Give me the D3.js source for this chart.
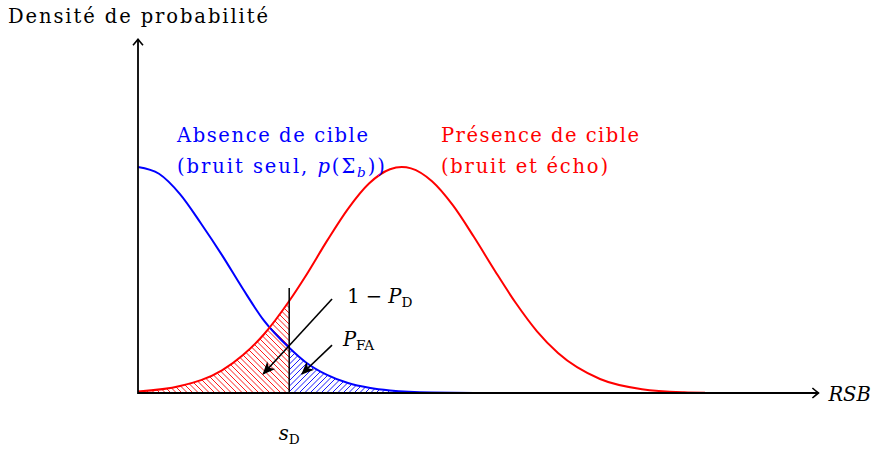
<!DOCTYPE html>
<html>
<head>
<meta charset="utf-8">
<script src="https://cdn.jsdelivr.net/npm/d3@7"></script>
<style>
  html, body { margin: 0; padding: 0; background: #fff; }
  svg { display: block; }
  text { font-family: "DejaVu Serif", serif; }
</style>
</head>
<body>
<div id="chart"></div>
<script>
'use strict';

// Noise-only density (blue): [RSB, density]
var bruitSeul = [
    [0, 1.00], [0.25, 0.97], [0.5, 0.88], [0.75, 0.75], [1.0, 0.61],
    [1.25, 0.46], [1.5, 0.32], [1.8, 0.20], [2.0, 0.135], [2.25, 0.08],
    [2.5, 0.044], [2.75, 0.023], [3.0, 0.011], [3.5, 0.002], [4.0, 0.0004],
    [5.0, 0], [6.0, 0], [7.0, 0], [7.9, 0]
];

// Noise + echo density (red)
var bruitEcho = [
    [0, 0.007], [0.5, 0.031], [1.0, 0.10], [1.25, 0.168], [1.5, 0.26],
    [1.8, 0.407], [2.0, 0.52], [2.25, 0.673], [2.5, 0.815], [2.75, 0.927],
    [3.0, 0.99], [3.14, 1.0], [3.25, 0.994], [3.5, 0.937], [3.75, 0.83],
    [4.0, 0.69], [4.25, 0.54], [4.5, 0.397], [4.75, 0.273], [5.0, 0.177],
    [5.5, 0.062], [6.0, 0.017], [6.5, 0.0035], [6.75, 0.0015]
];

// detection threshold s_D and the top of its marker line
var seuil = 1.8;
var seuilHaut = 0.465;

// annotation arrows: [x0, y0, x1, y1]
var flecheNonDetection = [2.31, 0.416, 1.49, 0.084];
var flecheFausseAlarme = [2.31, 0.212, 1.95, 0.084];

var titreY = "Densité de probabilité";
var titreX = "RSB";
var legendeBruit = ["Absence de cible", "(bruit seul, "];
var legendeEcho = ["Présence de cible", "(bruit et écho)"];

var outerWidth = 890,
    outerHeight = 455,
    xMax = 8.1,
    yMax = 1.565;

var x = d3.scaleLinear().domain([0, xMax]).range([138, 138 + xMax * 84]);
var y = d3.scaleLinear().domain([0, 1]).range([393, 167]);

var svg = d3.select('#chart').append('svg')
    .attr('width', outerWidth)
    .attr('height', outerHeight);

var defs = svg.append('defs');

// open "to" arrow tip for the axes
defs.append('marker')
    .attr('id', 'axisTip')
    .attr('markerUnits', 'userSpaceOnUse')
    .attr('viewBox', '-10 -6 12 12')
    .attr('refX', 0).attr('refY', 0)
    .attr('markerWidth', 12).attr('markerHeight', 12)
    .attr('orient', 'auto')
  .append('path')
    .attr('d', 'M-6,-5 Q-2,-1.5 0,0 Q-2,1.5 -6,5')
    .attr('fill', 'none')
    .attr('stroke', '#000')
    .attr('stroke-width', 1.6);

// filled tip for the annotation arrows
defs.append('marker')
    .attr('id', 'flecheTip')
    .attr('markerUnits', 'userSpaceOnUse')
    .attr('viewBox', '-14 -7 16 14')
    .attr('refX', 0).attr('refY', 0)
    .attr('markerWidth', 16).attr('markerHeight', 14)
    .attr('orient', 'auto')
  .append('path')
    .attr('d', 'M1,0 L-12,-5.5 L-8.5,0 L-12,5.5 Z')
    .attr('fill', '#000');

var area = d3.area()
    .x(function (d) { return x(d[0]); })
    .y0(y(0))
    .y1(function (d) { return y(d[1]); })
    .curve(d3.curveMonotoneX);

var line = d3.line()
    .x(function (d) { return x(d[0]); })
    .y(function (d) { return y(d[1]); })
    .curve(d3.curveMonotoneX);

// hatched region: diagonal strokes clipped to the area under a curve
function hatched (id, data, color, dir) {
    defs.append('clipPath')
        .attr('id', id)
      .append('path')
        .attr('d', area(data));

    var x0 = x(data[0][0]), x1 = x(data[data.length - 1][0]),
        top = y(d3.max(data, function (d) { return d[1]; })), bottom = y(0),
        h = bottom - top, step = 5.5, k, lines = [];
    for (k = x0 - h - step; k < x1 + h + step; k += step) lines.push(k);

    svg.append('g')
        .attr('clip-path', 'url(#' + id + ')')
        .selectAll('line')
        .data(lines)
        .enter().append('line')
        .attr('x1', function (d) { return d; })
        .attr('y1', dir > 0 ? bottom : top)
        .attr('x2', function (d) { return d + h; })
        .attr('y2', dir > 0 ? top : bottom)
        .attr('stroke', color)
        .attr('stroke-width', 0.9);
}

// missed detection (red, north west lines) and false alarm (blue, north east lines)
hatched('clipRouge', bruitEcho.filter(function (d) { return d[0] <= seuil; }), '#f00', -1);
hatched('clipBleu', bruitSeul.filter(function (d) { return d[0] >= seuil; }), '#00f', 1);

// density curves
svg.append('path')
    .datum(bruitSeul)
    .attr('d', line)
    .attr('fill', 'none')
    .attr('stroke', '#00f')
    .attr('stroke-width', 2);

svg.append('path')
    .datum(bruitEcho)
    .attr('d', line)
    .attr('fill', 'none')
    .attr('stroke', '#f00')
    .attr('stroke-width', 2);

// axes
svg.append('line')
    .attr('x1', x(0)).attr('y1', y(0))
    .attr('x2', x(xMax)).attr('y2', y(0))
    .attr('stroke', '#000').attr('stroke-width', 1.8)
    .attr('marker-end', 'url(#axisTip)');

svg.append('line')
    .attr('x1', x(0)).attr('y1', y(0) + 0.9)
    .attr('x2', x(0)).attr('y2', y(yMax))
    .attr('stroke', '#000').attr('stroke-width', 1.8)
    .attr('marker-end', 'url(#axisTip)');

// threshold
svg.append('line')
    .attr('x1', x(seuil)).attr('y1', y(0))
    .attr('x2', x(seuil)).attr('y2', y(seuilHaut))
    .attr('stroke', '#000').attr('stroke-width', 1.5);

// annotation arrows
[flecheNonDetection, flecheFausseAlarme].forEach(function (f) {
    svg.append('line')
        .attr('x1', x(f[0])).attr('y1', y(f[1]))
        .attr('x2', x(f[2])).attr('y2', y(f[3]))
        .attr('stroke', '#000').attr('stroke-width', 1.6)
        .attr('marker-end', 'url(#flecheTip)');
});

// texts
var fs = 19.5;

svg.append('text')
    .attr('x', 8).attr('y', 23)
    .attr('font-size', fs)
    .attr('textLength', 260).attr('lengthAdjust', 'spacing')
    .text(titreY);

svg.append('text')
    .attr('x', x(xMax) + 10).attr('y', y(0) + 8)
    .attr('font-size', fs)
    .attr('font-style', 'italic')
    .text(titreX);

svg.append('text')
    .attr('x', x(0.464)).attr('y', y(1.11))
    .attr('font-size', fs).attr('fill', '#00f')
    .attr('textLength', 191).attr('lengthAdjust', 'spacing')
    .text(legendeBruit[0]);

var tb2 = svg.append('text')
    .attr('x', x(0.464)).attr('y', y(0.973))
    .attr('font-size', fs).attr('fill', '#00f')
    .attr('textLength', 208).attr('lengthAdjust', 'spacing');
tb2.append('tspan').text(legendeBruit[1]);
tb2.append('tspan').attr('font-style', 'italic').text('p');
tb2.append('tspan').text('(Σ');
tb2.append('tspan').attr('font-style', 'italic').attr('font-size', fs * 0.7).attr('dy', 4).text('b');
tb2.append('tspan').attr('dy', -4).text('))');

svg.append('text')
    .attr('x', x(3.607)).attr('y', y(1.11))
    .attr('font-size', fs).attr('fill', '#f00')
    .attr('textLength', 198).attr('lengthAdjust', 'spacing')
    .text(legendeEcho[0]);

svg.append('text')
    .attr('x', x(3.607)).attr('y', y(0.973))
    .attr('font-size', fs).attr('fill', '#f00')
    .attr('textLength', 167).attr('lengthAdjust', 'spacing')
    .text(legendeEcho[1]);

var tpd = svg.append('text')
    .attr('x', x(2.49)).attr('y', y(0.398))
    .attr('font-size', fs);
tpd.append('tspan').text('1 − ');
tpd.append('tspan').attr('font-style', 'italic').text('P');
tpd.append('tspan').attr('font-size', fs * 0.7).attr('dy', 4).text('D');

var tfa = svg.append('text')
    .attr('x', x(2.44)).attr('y', y(0.208))
    .attr('font-size', fs);
tfa.append('tspan').attr('font-style', 'italic').text('P');
tfa.append('tspan').attr('font-size', fs * 0.7).attr('dy', 4).text('FA');

var tsd = svg.append('text')
    .attr('x', x(seuil)).attr('y', y(-0.208))
    .attr('font-size', fs)
    .attr('text-anchor', 'middle');
tsd.append('tspan').attr('font-style', 'italic').text('s');
tsd.append('tspan').attr('font-size', fs * 0.7).attr('dy', 4).text('D');
</script>
</body>
</html>
